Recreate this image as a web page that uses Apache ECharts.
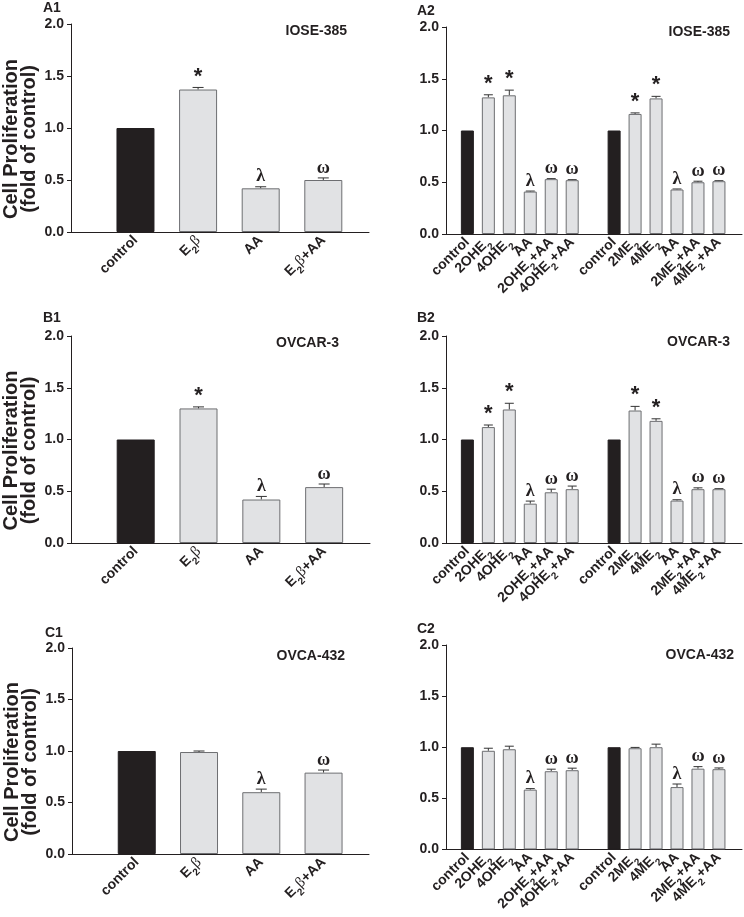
<!DOCTYPE html>
<html><head><meta charset="utf-8">
<script src="https://cdn.jsdelivr.net/npm/echarts@6/dist/echarts.min.js"></script>
<style>html,body{margin:0;padding:0;background:#fff}#c{width:744px;height:917px}</style>
</head><body><div id="c"></div>
<script>
// ---------- data ----------
const singleCats = ['control', 'E_2β', 'AA', 'E_2β+AA'];
const pairCats = ['control', '2OHE_2', '4OHE_2', 'AA', '2OHE_2+AA', '4OHE_2+AA',
                  'control', '2ME_2', '4ME_2', 'AA', '2ME_2+AA', '4ME_2+AA'];
const yTickValues = [0, 0.5, 1.0, 1.5, 2.0];

const a1Values = [1.00, 1.37, 0.42, 0.50];
const a1Errors = [0, 0.02, 0.015, 0.02];
const a1Marks  = ['', '*', 'λ', 'ω'];

const b1Values = [1.00, 1.30, 0.42, 0.54];
const b1Errors = [0, 0.015, 0.03, 0.03];
const b1Marks  = ['', '*', 'λ', 'ω'];

const c1Values = [1.00, 0.99, 0.60, 0.79];
const c1Errors = [0, 0.01, 0.03, 0.025];
const c1Marks  = ['', '', 'λ', 'ω'];

const a2Values = [1.00, 1.32, 1.34, 0.41, 0.53, 0.52, 1.00, 1.16, 1.31, 0.43, 0.50, 0.51];
const a2Errors = [0, 0.025, 0.05, 0.005, 0.005, 0.005, 0, 0.01, 0.02, 0.005, 0.01, 0.005];
const a2Marks  = ['', '*', '*', 'λ', 'ω', 'ω', '', '*', '*', 'λ', 'ω', 'ω'];

const b2Values = [1.00, 1.12, 1.29, 0.38, 0.49, 0.52, 1.00, 1.28, 1.18, 0.41, 0.52, 0.52];
const b2Errors = [0, 0.02, 0.06, 0.025, 0.03, 0.03, 0, 0.04, 0.02, 0.008, 0.013, 0.005];
const b2Marks  = ['', '*', '*', 'λ', 'ω', 'ω', '', '*', '*', 'λ', 'ω', 'ω'];

const c2Values = [1.00, 0.965, 0.98, 0.585, 0.765, 0.775, 1.00, 0.99, 1.00, 0.61, 0.79, 0.785];
const c2Errors = [0, 0.025, 0.03, 0.01, 0.02, 0.02, 0, 0.008, 0.03, 0.03, 0.02, 0.012];
const c2Marks  = ['', '', '', 'λ', 'ω', 'ω', '', '', '', 'λ', 'ω', 'ω'];

const panelTags = ['A1', 'A2', 'B1', 'B2', 'C1', 'C2'];
const cellLines = ['IOSE-385', 'IOSE-385', 'OVCAR-3', 'OVCAR-3', 'OVCA-432', 'OVCA-432'];
const yTitle = 'Cell Proliferation\n(fold of control)';

// ---------- layout / style ----------
const FONT = '"Liberation Sans", Arial, Helvetica, sans-serif';
const SERIF = '"Liberation Serif", "Times New Roman", serif';
const INK = '#231f20';
const DARK = '#231f20';
const LIGHT = '#e1e2e4';
const BORDER = '#6d6e71';

const panels = [
  {cats: singleCats, values: a1Values, errors: a1Errors, marks: a1Marks, grid: {left: 70, top: 24, width: 299, height: 208}, xr: [-0.03, 4.73], bw: 38, cap: 11, yName: true,
   tag: [43, 8], cell: [347, 31]},
  {cats: pairCats, values: a2Values, errors: a2Errors, marks: a2Marks, grid: {left: 446, top: 27, width: 296, height: 207}, xr: [-0.02, 14.1], bw: 13, cap: 9, yName: false,
   tag: [417, 11], cell: [730, 32]},
  {cats: singleCats, values: b1Values, errors: b1Errors, marks: b1Marks, grid: {left: 70, top: 336, width: 300, height: 207}, xr: [-0.03, 4.73], bw: 38, cap: 11, yName: true,
   tag: [43, 318], cell: [339, 343]},
  {cats: pairCats, values: b2Values, errors: b2Errors, marks: b2Marks, grid: {left: 446, top: 336, width: 296, height: 207}, xr: [-0.02, 14.1], bw: 13, cap: 9, yName: false,
   tag: [417, 318], cell: [730, 342]},
  {cats: singleCats, values: c1Values, errors: c1Errors, marks: c1Marks, grid: {left: 72, top: 648, width: 297, height: 206}, xr: [-0.04, 4.73], bw: 38, cap: 11, yName: true,
   tag: [45, 633], cell: [345, 656]},
  {cats: pairCats, values: c2Values, errors: c2Errors, marks: c2Marks, grid: {left: 446, top: 645, width: 296, height: 208}, xr: [-0.02, 14.1], bw: 13, cap: 9, yName: false,
   tag: [417, 629], cell: [734, 655]}
];

function posOf(cats, i) { return cats.length > 6 ? (i < 6 ? i + 1 : i + 2) : i + 1; }

function richLabel(s) {
  const parts = s.split('_2');
  return parts.map(p => {
    if (!p) return '';
    return p.split('β').map(q => q ? '{m|' + q + '}' : '').join('{g|β}');
  }).join('{s|2}');
}

const richStyles = {
  m: {fontSize: 14, fontWeight: 'bold', fontFamily: FONT, color: INK, lineHeight: 24, verticalAlign: 'middle'},
  s: {fontSize: 10, fontWeight: 'bold', fontFamily: FONT, color: INK, lineHeight: 15, verticalAlign: 'bottom'},
  g: {fontSize: 15, fontWeight: 'normal', fontFamily: SERIF, color: INK, lineHeight: 24, verticalAlign: 'middle'}
};

const grids = [], xAxes = [], yAxes = [], series = [], graphics = [];

panels.forEach((p, k) => {
  grids.push(Object.assign({containLabel: false}, p.grid));
  const positions = p.cats.map((c, i) => posOf(p.cats, i));
  const labelMap = {};
  positions.forEach((pos, i) => { labelMap[pos] = p.cats[i]; });
  // empty guard labels at both ends so that no real label is treated as the min/max label
  const labelValues = [0].concat(positions, [positions[positions.length - 1] + 1]);

  xAxes.push({
    type: 'value', gridIndex: k, min: p.xr[0], max: p.xr[1],
    axisLine: {show: true, onZero: false, lineStyle: {color: INK, width: 1}},
    axisTick: {show: false},
    splitLine: {show: false},
    axisLabel: {
      customValues: labelValues,
      hideOverlap: false,
      rotate: 45, margin: 6,
      formatter: v => labelMap[Math.round(v)] ? richLabel(labelMap[Math.round(v)]) : '',
      rich: richStyles
    }
  });

  yAxes.push({
    type: 'value', gridIndex: k, min: 0, max: 2, interval: 0.5,
    axisLine: {show: true, onZero: false, lineStyle: {color: INK, width: 1}},
    axisTick: {show: true, inside: false, length: 4, lineStyle: {color: INK}},
    splitLine: {show: false},
    axisLabel: {
      customValues: yTickValues,
      showMinLabel: true, showMaxLabel: true,
      margin: 7, fontSize: 14, fontWeight: 'bold', fontFamily: FONT, color: INK,
      formatter: v => v.toFixed(1)
    },
    name: p.yName ? yTitle : '',
    nameLocation: 'middle', nameGap: 33,
    nameTextStyle: {fontSize: 20, fontWeight: 'bold', fontFamily: FONT, color: INK, lineHeight: 18, padding: [0, 22, 0, 0]}
  });

  series.push({
    type: 'bar', xAxisIndex: k, yAxisIndex: k, barWidth: p.bw,
    data: p.values.map((v, i) => ({
      value: [positions[i], v],
      itemStyle: p.cats[i] === 'control'
        ? {color: DARK, borderColor: DARK, borderWidth: 1}
        : {color: LIGHT, borderColor: BORDER, borderWidth: 1}
    })),
    silent: true, animation: false
  });

  const marks = p.marks, cap = p.cap;
  series.push({
    type: 'custom', xAxisIndex: k, yAxisIndex: k, clip: false, silent: true, animation: false,
    encode: {x: 0, y: 1},
    data: p.values.map((v, i) => [positions[i], v, p.errors[i], i]),
    renderItem: (params, api) => {
      const x = api.value(0), y = api.value(1), e = api.value(2), idx = api.value(3);
      const base = api.coord([x, y]);
      const top = api.coord([x, y + e]);
      const children = [];
      if (e > 0) {
        children.push({type: 'line', shape: {x1: base[0], y1: base[1], x2: top[0], y2: top[1]},
          style: {stroke: '#333', lineWidth: 1}});
        children.push({type: 'line', shape: {x1: top[0] - cap / 2, y1: top[1], x2: top[0] + cap / 2, y2: top[1]},
          style: {stroke: '#333', lineWidth: 1}});
      }
      const m = marks[idx];
      if (m) {
        const star = m === '*';
        children.push({type: 'text', x: top[0], y: top[1] - (star ? 0 : 1),
          style: {text: m, align: 'center', verticalAlign: 'bottom', fill: INK,
                  font: star ? 'bold 22px ' + FONT : 'bold 18px ' + SERIF}});
      }
      return {type: 'group', children};
    }
  });

  graphics.push({type: 'text', x: p.tag[0], y: p.tag[1],
    style: {text: panelTags[k], font: 'bold 14px ' + FONT, fill: INK, align: 'left', verticalAlign: 'middle'}});
  graphics.push({type: 'text', x: p.cell[0], y: p.cell[1],
    style: {text: cellLines[k], font: 'bold 14px ' + FONT, fill: INK, align: 'right', verticalAlign: 'middle'}});
});

const chart = echarts.init(document.getElementById('c'), null, {renderer: 'canvas'});
chart.setOption({
  backgroundColor: '#ffffff',
  animation: false,
  grid: grids, xAxis: xAxes, yAxis: yAxes, series: series,
  graphic: graphics
});
</script>
</body></html>
